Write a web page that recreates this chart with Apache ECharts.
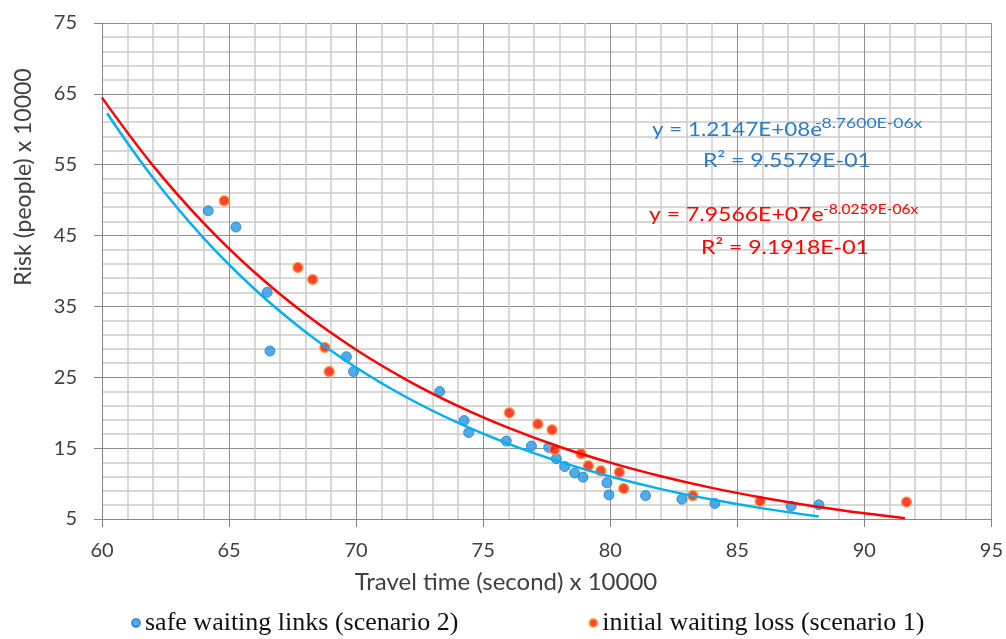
<!DOCTYPE html>
<html>
<head>
<meta charset="utf-8">
<script src="https://cdn.jsdelivr.net/npm/echarts@6/dist/echarts.min.js"></script>
<style>
html,body{margin:0;padding:0;background:#fff;}
#chart{width:1006px;height:639px;}
</style>
</head>
<body>
<div id="chart"></div>
<script>
// ---- data ----
const blueName = 'safe waiting links (scenario 2)';
const redName = 'initial waiting loss (scenario 1)';

const blueX = [64.18, 65.27, 66.50, 66.61, 69.62, 69.90, 73.29, 74.25, 74.43, 75.91, 76.90, 77.58, 77.88, 78.21, 78.60, 78.93, 79.87, 79.95, 81.39, 82.82, 84.12, 87.12, 88.21];
const blueY = [48.5, 46.2, 37.0, 28.7, 27.9, 25.8, 23.0, 18.9, 17.2, 16.0, 15.3, 15.1, 13.5, 12.4, 11.5, 10.9, 10.1, 8.4, 8.3, 7.8, 7.2, 6.8, 7.0];

const redX = [64.81, 67.71, 68.29, 68.77, 68.94, 76.03, 77.15, 77.71, 77.81, 78.85, 79.14, 79.63, 80.36, 80.53, 83.25, 85.90, 91.66];
const redY = [49.9, 40.5, 38.8, 29.2, 25.8, 20.0, 18.4, 17.6, 14.8, 14.2, 12.5, 11.8, 11.6, 9.3, 8.3, 7.5, 7.4];

// trend lines, points
const blueTrendX = [60.2, 62, 64, 66, 68, 70, 72, 74, 76, 78, 80, 82, 84, 86, 88.2];
const blueTrendY = [62.26, 53.18, 44.63, 37.46, 31.44, 26.39, 22.15, 18.59, 15.60, 13.09, 10.99, 9.22, 7.74, 6.50, 5.36];
const redTrendX = [60, 62, 64, 66, 68, 70, 72, 74, 76, 78, 80, 82, 84, 86, 88, 90, 91.6];
const redTrendY = [64.47, 54.91, 46.77, 39.83, 33.92, 28.89, 24.61, 20.96, 17.85, 15.20, 12.95, 11.03, 9.39, 8.00, 6.81, 5.80, 5.10];

const xRange = [60, 95];
const yRange = [5, 75];
const xTitle = 'Travel time (second) x 10000';
const yTitle = 'Risk (people) x 10000';
const blueEqMain = 'y = 1.2147E+08e';
const blueEqSup = '-8.7600E-06x';
const blueR2 = 'R\u00B2 = 9.5579E-01';
const redEqMain = 'y = 7.9566E+07e';
const redEqSup = '-8.0259E-06x';
const redR2 = 'R\u00B2 = 9.1918E-01';

// ---- build ----
const zip = (xs, ys) => xs.map((x, i) => [x, ys[i]]);
const BLUE_TXT = '#2a7cc7';
const RED_TXT = '#ff0000';
const sans = 'Lato';

function txt(text, x, y, size, color, sx) {
  return {
    type: 'text', x: x, y: y, scaleX: sx, z: 100,
    style: {
      text: text, x: 0, y: 0, fill: color,
      font: size + 'px ' + sans,
      textAlign: 'left', textVerticalAlign: 'middle',
      align: 'left', verticalAlign: 'middle'
    }
  };
}

const chart = echarts.init(document.getElementById('chart'), null, {renderer: 'canvas'});
chart.setOption({
  animation: false,
  backgroundColor: '#fff',
  grid: {left: 102, right: 14, top: 23, bottom: 120, containLabel: false},
  xAxis: {
    type: 'value', min: xRange[0], max: xRange[1], interval: 5,
    axisLine: {show: true, onZero: false, lineStyle: {color: '#868686', width: 1}},
    axisTick: {show: true, inside: false, length: 8, lineStyle: {color: '#868686'}},
    axisLabel: {margin: 22, color: '#404040', fontFamily: sans, fontSize: 20},
    splitLine: {show: true, lineStyle: {color: '#8f8f8f', width: 1}},
    minorTick: {show: false, splitNumber: 5},
    minorSplitLine: {show: true, lineStyle: {color: '#cbcbcb', width: 1.5}}
  },
  yAxis: {
    type: 'value', min: yRange[0], max: yRange[1], interval: 10,
    axisLine: {show: true, onZero: false, lineStyle: {color: '#868686', width: 1}},
    axisTick: {show: true, inside: false, length: 8, lineStyle: {color: '#868686'}},
    axisLabel: {margin: 25, color: '#404040', fontFamily: sans, fontSize: 20},
    splitLine: {show: true, lineStyle: {color: '#8f8f8f', width: 1}},
    minorTick: {show: false, splitNumber: 5},
    minorSplitLine: {show: true, lineStyle: {color: '#cbcbcb', width: 1.5}}
  },
  legend: {
    data: [blueName, redName],
    left: 126, top: 605,
    icon: 'circle', itemWidth: 8, itemHeight: 8, itemGap: 130,
    textStyle: {fontFamily: '"Liberation Serif", "Times New Roman", serif', fontSize: 26, color: '#111'}
  },
  series: [
    {
      name: blueName, type: 'scatter', symbol: 'circle', symbolSize: 10, z: 3,
      itemStyle: {color: '#1f9ae6', borderColor: '#3a76c2', borderWidth: 1},
      data: zip(blueX, blueY)
    },
    {
      name: redName, type: 'scatter', symbol: 'circle', symbolSize: 10, z: 3,
      itemStyle: {color: '#ff1500', borderColor: '#ff9a3c', borderWidth: 1.5},
      data: zip(redX, redY)
    },
    {
      name: 'blueTrend', type: 'line', showSymbol: false, smooth: 0.4, z: 4,
      lineStyle: {color: '#00b0f0', width: 2.5}, itemStyle: {color: '#00b0f0'},
      data: zip(blueTrendX, blueTrendY), silent: true
    },
    {
      name: 'redTrend', type: 'line', showSymbol: false, smooth: 0.4, z: 4,
      lineStyle: {color: '#ff0000', width: 2.5}, itemStyle: {color: '#ff0000'},
      data: zip(redTrendX, redTrendY), silent: true
    }
  ],
  graphic: [
    txt(blueEqMain, 652, 130, 20, BLUE_TXT, 1.12),
    txt(blueEqSup, 815, 124, 13, BLUE_TXT, 1.35),
    txt(blueR2, 703, 161, 20, BLUE_TXT, 1.15),
    txt(redEqMain, 649, 215, 20, RED_TXT, 1.15),
    txt(redEqSup, 823, 210, 13, RED_TXT, 1.2),
    txt(redR2, 701, 248, 20, RED_TXT, 1.15),
    {
      type: 'text', x: 506, y: 582, z: 100,
      style: {text: xTitle, x: 0, y: 0, fill: '#404040', font: '24px ' + sans,
        textAlign: 'center', textVerticalAlign: 'middle', align: 'center', verticalAlign: 'middle'}
    },
    {
      type: 'text', x: 24, y: 177, rotation: Math.PI / 2, z: 100,
      style: {text: yTitle, x: 0, y: 0, fill: '#404040', font: '23px ' + sans,
        textAlign: 'center', textVerticalAlign: 'middle', align: 'center', verticalAlign: 'middle'}
    }
  ]
});
</script>
</body>
</html>
